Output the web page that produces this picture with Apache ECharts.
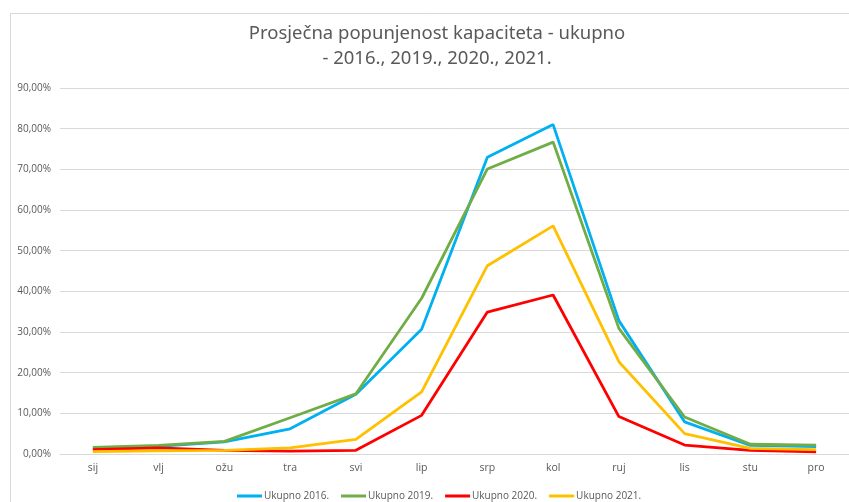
<!DOCTYPE html>
<html>
<head>
<meta charset="utf-8">
<title>Prosječna popunjenost kapaciteta</title>
<script src="https://cdn.jsdelivr.net/npm/echarts@6/dist/echarts.min.js"></script>
<style>
  html, body { margin: 0; padding: 0; background: #fff; }
  #chart { width: 849px; height: 502px; }
</style>
</head>
<body>
<div id="chart"></div>
<script>
// podaci (postoci)
var months = ['sij', 'vlj', 'ožu', 'tra', 'svi', 'lip', 'srp', 'kol', 'ruj', 'lis', 'stu', 'pro'];
var ukupno2016 = [1.4, 1.9, 3.0, 6.2, 14.7, 30.7, 73.0, 81.0, 32.8, 7.9, 2.1, 1.8];
var ukupno2019 = [1.6, 2.1, 3.1, 8.9, 14.8, 38.3, 70.1, 76.7, 30.9, 9.1, 2.4, 2.2];
var ukupno2020 = [1.1, 1.5, 0.9, 0.7, 0.9, 9.5, 34.9, 39.1, 9.2, 2.2, 0.9, 0.5];
var ukupno2021 = [0.6, 0.8, 0.9, 1.5, 3.6, 15.3, 46.3, 56.1, 22.7, 5.0, 1.4, 1.1];
var seriesNames = ['Ukupno 2016.', 'Ukupno 2019.', 'Ukupno 2020.', 'Ukupno 2021.'];
var seriesColors = ['#00B0F0', '#70AD47', '#FF0000', '#FFC000'];

var myChart = echarts.init(document.getElementById('chart'));

function makeLine(i, data) {
    return {
        name: seriesNames[i],
        type: 'line',
        data: data,
        symbol: 'none',
        lineStyle: { width: 2.8, color: seriesColors[i] },
        itemStyle: { color: seriesColors[i] }
    };
}

var option = {
    backgroundColor: '#fff',
    animation: false,
    textStyle: { fontFamily: 'Open Sans' },
    graphic: [{
        type: 'rect',
        left: 8, top: 11,
        shape: { width: 900, height: 600 },
        style: { fill: 'none', stroke: '#d9d9d9', lineWidth: 1 }
    }],
    title: {
        text: 'Prosječna popunjenost kapaciteta - ukupno\n- 2016., 2019., 2020., 2021.',
        left: 432,
        textAlign: 'center',
        top: 16,
        textStyle: {
            fontFamily: 'Noto Sans',
            fontSize: 18.5,
            fontWeight: 'normal',
            color: '#595959',
            lineHeight: 25
        }
    },
    legend: {
        data: seriesNames,
        left: 232,
        top: 486,
        icon: 'rect',
        itemWidth: 25,
        itemHeight: 3,
        itemGap: 12,
        textStyle: { fontSize: 10, color: '#595959', fontFamily: 'Open Sans', padding: [0, 0, 0, -3] }
    },
    grid: { left: 60, width: 790, top: 88, height: 366 },
    xAxis: {
        type: 'category',
        data: months,
        boundaryGap: true,
        axisLine: { lineStyle: { color: '#d9d9d9' } },
        axisTick: { show: false },
        axisLabel: { color: '#595959', fontSize: 10.5, margin: 9 }
    },
    yAxis: {
        type: 'value',
        min: 0,
        max: 90,
        interval: 10,
        axisLine: { show: false },
        axisTick: { show: false },
        splitLine: { lineStyle: { color: '#d9d9d9' } },
        axisLabel: {
            color: '#595959',
            fontSize: 10,
            margin: 9,
            formatter: function (v) { return v.toFixed(2).replace('.', ',') + '%'; }
        }
    },
    series: [
        makeLine(0, ukupno2016),
        makeLine(1, ukupno2019),
        makeLine(2, ukupno2020),
        makeLine(3, ukupno2021)
    ]
};

myChart.setOption(option);
</script>
</body>
</html>
